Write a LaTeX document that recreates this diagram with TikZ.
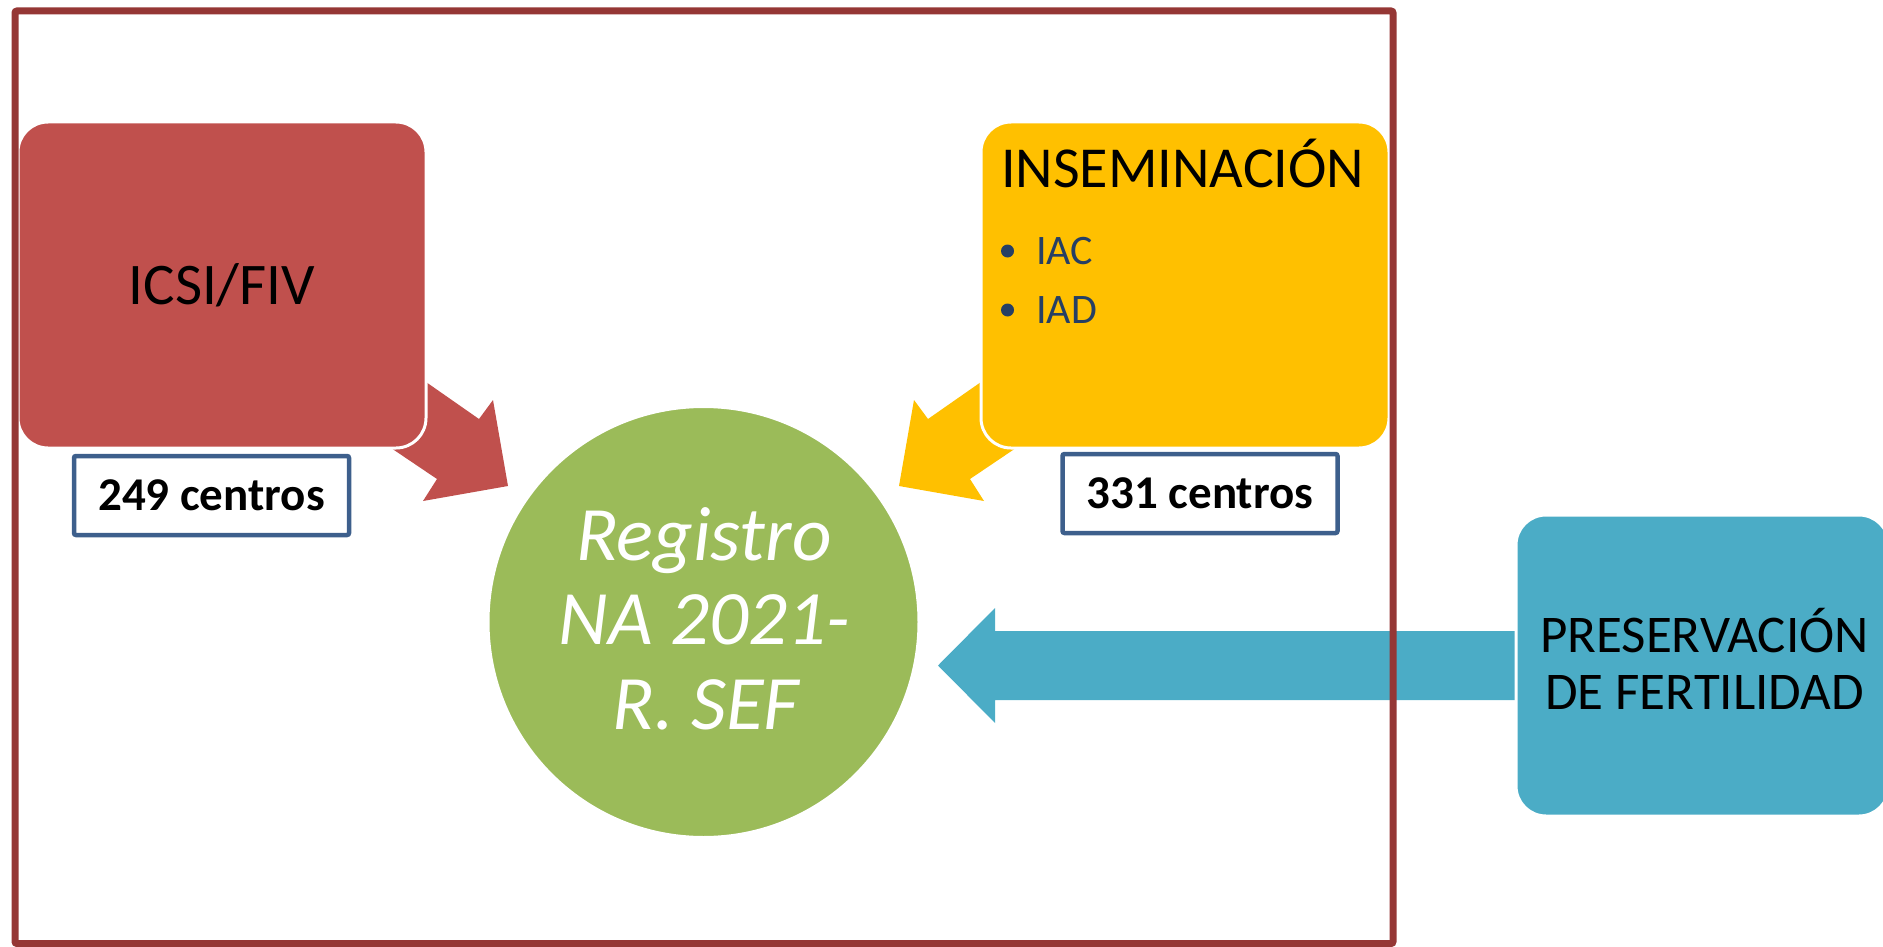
\documentclass[tikz,border=0pt]{standalone}
\usepackage{fontspec}
\setmainfont{Carlito}
\definecolor{icsired}{HTML}{C0504D}
\definecolor{insyellow}{HTML}{FFC000}
\definecolor{presblue}{HTML}{4BACC6}
\definecolor{reggreen}{HTML}{9BBB59}
\definecolor{framered}{HTML}{953735}
\definecolor{countblue}{HTML}{3D5F8C}
\definecolor{bulletblue}{HTML}{263F64}
\tikzset{
  bigbox/.style={rectangle, rounded corners=30pt, draw=white, line width=3pt, inner sep=0pt},
  countbox/.style={rectangle, rounded corners=2pt, draw=countblue, line width=4.5pt, fill=white,
    minimum width=275pt, minimum height=79pt, inner sep=0pt, font=\bfseries\fontsize{47}{56}\selectfont},
  regtext/.style={anchor=base, text=white, inner sep=0pt, font=\itshape\fontsize{77}{85}\selectfont},
  prestext/.style={anchor=base, inner sep=0pt, font=\fontsize{53}{57}\selectfont},
  bullettext/.style={anchor=base west, inner sep=0pt, text=bulletblue, font=\fontsize{42}{50}\selectfont},
  bulletdot/.style={circle, fill=bulletblue, minimum size=13pt, inner sep=0pt}
}
\begin{document}
\begin{tikzpicture}[x=1pt,y=-1pt]
\useasboundingbox (0,0) rectangle (1883,947);
% block arrows (behind the boxes)
\fill[icsired] (383,352) -- (479,419) -- (493,400) -- (508,486) -- (423,501) -- (437,479) -- (348,419) -- cycle;
\fill[insyellow] (1024,352) -- (928,419) -- (914,400) -- (899,486) -- (984,501) -- (970,479) -- (1059,419) -- cycle;
\fill[presblue] (1522,631) -- (995,631) -- (995,608) -- (938,665.5) -- (995,723) -- (995,700) -- (1522,700) -- cycle;
% main boxes
\node[bigbox, fill=icsired, minimum width=408pt, minimum height=326pt,
  font=\fontsize{59}{70}\selectfont] (icsi) at (222,285) {ICSI/FIV};
\node[bigbox, fill=insyellow, minimum width=408pt, minimum height=326pt] (ins) at (1185,285) {};
\node[anchor=base west, inner sep=0pt, font=\fontsize{58}{70}\selectfont] (institle) at (1001,187) {INSEMINACIÓN};
\node[bulletdot] (b1) at (1007.5,251) {};
\node[bullettext] (iac) at (1036,264) {IAC};
\node[bulletdot] (b2) at (1007.5,310) {};
\node[bullettext] (iad) at (1036,323) {IAD};
\node[bigbox, fill=presblue, minimum width=373pt, minimum height=301pt] (pres) at (1702.5,665.5) {};
\node[prestext] (pres1) at (1704.5,652) {PRESERVACIÓN};
\node[prestext] (pres2) at (1704.5,709) {DE FERTILIDAD};
% central circle
\node[circle, fill=reggreen, draw=white, line width=2pt, minimum size=430pt, inner sep=0pt] (reg) at (703.5,622) {};
\node[regtext] (reg1) at (704,560) {Registro};
\node[regtext] (reg2) at (704,644) {NA 2021-};
\node[regtext] (reg3) at (706,729) {R. SEF};
% count boxes
\node[countbox] (c249) at (211.5,495.5) {249 centros};
\node[countbox] (c331) at (1200,493.5) {331 centros};
% frame
\draw[framered, line width=7pt, rounded corners=2pt] (15,11) rectangle (1393,943.5);
\end{tikzpicture}
\end{document}
